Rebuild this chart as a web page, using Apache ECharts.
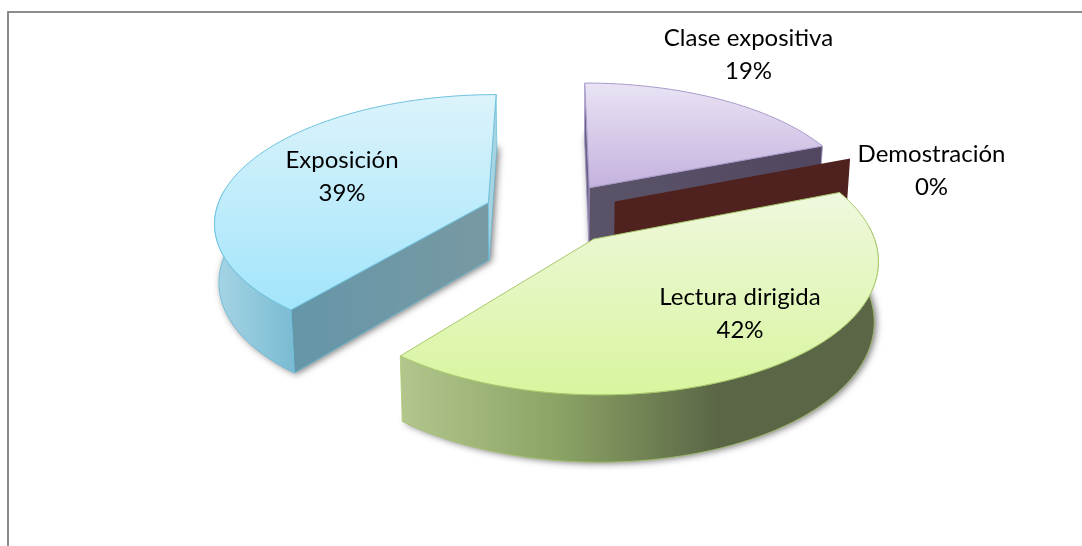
<!DOCTYPE html>
<html>
<head>
<meta charset="utf-8">
<style>
  html, body { margin: 0; padding: 0; background: #fff; }
  #chart { width: 1082px; height: 546px; }
</style>
<script src="https://cdn.jsdelivr.net/npm/echarts@6/dist/echarts.min.js"></script>
</head>
<body>
<div id="chart"></div>
<script>
// data, clockwise from 12 o'clock like the original pie
const categories = ["Clase expositiva", "Demostración", "Lectura dirigida", "Exposición"];
const values = [19, 0, 41.8, 39.2];

// look of each slice: top gradient, outer wall stops, radial wall stops, outline
const sliceStyles = {
  "Clase expositiva": { top: ["#EAE3F4", "#C4B2DE"], side: ["#5B5468", "#544A60"], wall: ["#5B5468", "#514760"], sliver: "#6A5F85", line: "#A99DCB" },
  "Demostración": { top: ["#4F211F", "#4F211F"], side: ["#4F211F", "#4F211F"], wall: ["#4F211F", "#4F211F"], sliver: "#4F211F", line: "#4F211F" },
  "Lectura dirigida": { top: ["#EFF8DE", "#D8F59E"], side: ["#B2C68D", "#8BA365", "#5A6646", "#5A6646"], wall: ["#5A6646", "#5A6646"], sliver: "#5A6646", line: "#A9C96C" },
  "Exposición": { top: ["#DCF3FB", "#A2E5FB"], side: ["#A6D5E5", "#7ABBD2"], wall: ["#6596A8", "#7899A3"], sliver: "#A8D4E2", line: "#6FC3DE" }
};
// label anchors in the page, kept apart from the values
const labelAnchors = {
  "Clase expositiva": [748.5, 55],
  "Demostración": [931.5, 171],
  "Lectura dirigida": [740, 314],
  "Exposición": [342, 177]
};

// the 3d look: perspective projection of a flat disc with a height
const view = { cx: 552, cy: 213, radius: 273, tilt: 125.9, persp: 0.14, explode: 0.25, height: 58, shrink: 0.013 };
const total = values.reduce((a, b) => a + b, 0);
const rad = (d) => (d * Math.PI) / 180;

function project(px, py, down) {
  const w = 1 - view.persp * py;
  const s = down ? 1 - view.shrink : 1;
  return [
    view.cx + (view.radius * px * s) / w,
    view.cy + (view.tilt * py * s) / w + (down ? view.height / w : 0)
  ];
}

function arcPoints(ox, oy, from, to, down) {
  const pts = [];
  const steps = Math.max(1, Math.ceil(Math.abs(to - from) / 2));
  for (let i = 0; i <= steps; i++) {
    const t = rad(from + ((to - from) * i) / steps);
    pts.push(project(ox + Math.cos(t), oy + Math.sin(t), down));
  }
  return pts;
}

function sideOf(a, b, p) {
  return (b[0] - a[0]) * (p[1] - a[1]) - (b[1] - a[1]) * (p[0] - a[0]);
}

function hGrad(stops) {
  return new echarts.graphic.LinearGradient(0, 0, 1, 0, stops.map((c, i) => ({ offset: i / (stops.length - 1), color: c })));
}

function renderSlice(params, api) {
  const i = params.dataIndex;
  const name = categories[i];
  const st = sliceStyles[name];
  let before = 0;
  for (let k = 0; k < i; k++) before += values[k];
  const start = -90 + (before / total) * 360;
  const end = start + (values[i] / total) * 360;
  const mid = rad((start + end) / 2);
  const ox = view.explode * Math.cos(mid);
  const oy = view.explode * Math.sin(mid);

  const apex = project(ox, oy, false);
  const apexLow = project(ox, oy, true);
  const topArc = arcPoints(ox, oy, start, end, false);
  const lowArc = arcPoints(ox, oy, start, end, true);
  const inner = project(ox + 0.5 * Math.cos(mid), oy + 0.5 * Math.sin(mid), false);
  const children = [];

  // shadow under the block
  if (end > start) {
    children.push({
      type: "polygon", silent: true,
      shape: { points: [apexLow].concat(lowArc) },
      style: { fill: "#777", shadowBlur: 7, shadowColor: "rgba(0,0,0,0.55)", shadowOffsetX: 2, shadowOffsetY: 1 }
    });
  }

  // radial walls that face the viewer
  [start, end].forEach((a, n) => {
    const rim = project(ox + Math.cos(rad(a)), oy + Math.sin(rad(a)), false);
    const rimLow = project(ox + Math.cos(rad(a)), oy + Math.sin(rad(a)), true);
    const shows = end === start
      ? n === 0
      : sideOf(apex, rim, inner) * sideOf(apex, rim, apexLow) < 0;
    if (!shows) return;
    const isBig = Math.abs(rim[0] - apex[0]) > 40;
    children.push({
      type: "polygon", silent: true,
      shape: { points: [apex, rim, rimLow, apexLow] },
      style: { fill: isBig ? hGrad(st.wall) : st.sliver, stroke: st.line, lineWidth: end === start ? 0 : 0.8 }
    });
  });

  // outer wall, only where it can be seen
  const from = Math.max(start, -6);
  const to = Math.min(end, 186);
  if (to > from) {
    const upper = arcPoints(ox, oy, from, to, false);
    const lower = arcPoints(ox, oy, from, to, true).reverse();
    children.push({
      type: "polygon", silent: true,
      shape: { points: upper.concat(lower) },
      style: { fill: hGrad(st.side), stroke: st.line, lineWidth: 0.8 }
    });
  }

  // top face
  if (end > start) {
    children.push({
      type: "polygon", silent: true,
      shape: { points: [apex].concat(topArc) },
      style: {
        fill: new echarts.graphic.LinearGradient(0, 0, 0, 1, [
          { offset: 0, color: st.top[0] },
          { offset: 1, color: st.top[1] }
        ]),
        stroke: st.line, lineWidth: 1
      }
    });
  }

  return { type: "group", children: children };
}

function midAngle(i) {
  let before = 0;
  for (let k = 0; k < i; k++) before += values[k];
  return -90 + ((before + values[i] / 2) / total) * 360;
}

// far slices first so the near ones cover them
const drawOrder = categories.map((c, i) => i).sort((a, b) =>
  Math.sin(rad(midAngle(a))) - Math.sin(rad(midAngle(b))));

const chart = echarts.init(document.getElementById("chart"), null, { renderer: "canvas" });
const option = {
  animation: false,
  backgroundColor: "#fff",
  graphic: [
    { type: "line", z: -1, shape: { x1: 8, y1: 12, x2: 1082, y2: 12 }, style: { stroke: "#8C8C8C", lineWidth: 2 } },
    { type: "line", z: -1, shape: { x1: 8, y1: 11, x2: 8, y2: 546 }, style: { stroke: "#8C8C8C", lineWidth: 2 } }
  ].concat(categories.map((c, i) => ({
    type: "text", z: 10,
    x: labelAnchors[c][0], y: labelAnchors[c][1],
    style: {
      text: c + "\n" + Math.round((values[i] / total) * 100) + "%",
      fontFamily: "Lato", fontSize: 24, lineHeight: 33, fill: "#000",
      align: "center", verticalAlign: "middle"
    }
  }))),
  series: drawOrder.map((idx) => ({
    type: "custom",
    coordinateSystem: "none",
    silent: true,
    data: [values[idx]],
    renderItem: (params, api) => renderSlice({ dataIndex: idx }, api)
  }))
};
chart.setOption(option);
</script>
</body>
</html>
